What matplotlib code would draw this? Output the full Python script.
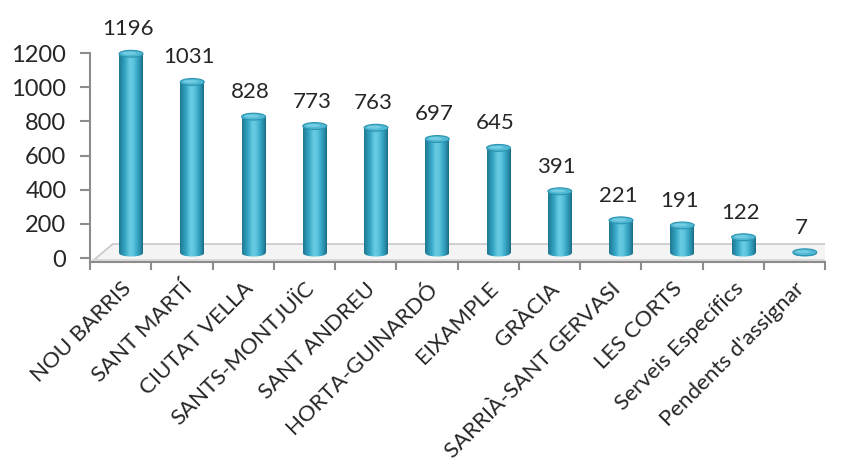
import numpy as np
import matplotlib.pyplot as plt
from matplotlib.patches import Rectangle, Ellipse, Polygon

districtes = ['NOU BARRIS', 'SANT MARTÍ', 'CIUTAT VELLA', 'SANTS-MONTJUÏC',
              'SANT ANDREU', 'HORTA-GUINARDÓ', 'EIXAMPLE', 'GRÀCIA',
              'SARRIÀ-SANT GERVASI', 'LES CORTS', 'Serveis Específics',
              "Pendents d'assignar"]
valors = [1196, 1031, 828, 773, 763, 697, 645, 391, 221, 191, 122, 7]
yticks = [0, 200, 400, 600, 800, 1000, 1200]

plt.rcParams['font.family'] = ['Lato', 'DejaVu Sans']

fig = plt.figure(figsize=(8.42, 4.66), dpi=100)
# l'eix va fins a 1300 perquè no es talli la columna més alta
ax = fig.add_axes([90 / 842, 204 / 466, 735 / 842, 226 / 466])
ax.set_xlim(-0.5, len(valors) - 0.5)
ax.set_ylim(-23, 1300)

# desplaçament "3D"
dx = 0.17      # desplaçament de les columnes cap a la dreta
base = 29      # base de les columnes sobre el terra
amp = 0.39     # amplada de la columna
el_h = 40      # alçada de l'el·lipse

# terra
terra = Polygon([[-0.47, -21], [-0.13, 82], [11.74, 82], [11.53, -21]],
                closed=True, facecolor='#f4f4f4', edgecolor='#c8c8c8', lw=1.2, zorder=1)
ax.add_patch(terra)
ax.add_patch(Polygon([[-0.47, -21], [11.53, -21], [11.53, -6], [-0.47, -6]],
                     closed=True, facecolor='#d9d9d9', edgecolor='none', zorder=1))

# gradient horitzontal del cilindre
grad = np.array([0.0, 0.25, 0.45, 0.6, 0.75, 0.9, 1.0])
cols = np.array([[0x1f, 0x78, 0x94], [0x34, 0xa5, 0xc4], [0x6a, 0xcc, 0xe3],
                 [0x5e, 0xc4, 0xdd], [0x3a, 0xaa, 0xc8], [0x28, 0x8b, 0xa8],
                 [0x1b, 0x6a, 0x83]]) / 255
t = np.linspace(0, 1, 64)
img = np.stack([np.interp(t, grad, cols[:, k]) for k in range(3)], axis=-1)[None, :, :]

for i, v in enumerate(valors):
    xc = i + dx
    x0, x1 = xc - amp / 2, xc + amp / 2
    top = max(v, base + 5)
    # cos
    im = ax.imshow(img, extent=[x0, x1, base - el_h / 2, top], aspect='auto',
                   interpolation='bicubic', zorder=3)
    im.set_clip_path(Rectangle((x0, base), amp, top - base, transform=ax.transData))
    im2 = ax.imshow(img, extent=[x0, x1, base - el_h / 2, top], aspect='auto',
                    interpolation='bicubic', zorder=3)
    im2.set_clip_path(Ellipse((xc, base), amp, el_h, transform=ax.transData))
    # tapa superior
    ax.add_patch(Ellipse((xc, top), amp, el_h, facecolor='#52b9d4',
                         edgecolor='#2b93b1', lw=0.8, zorder=4))
    ax.add_patch(Ellipse((xc - 0.03, top + 3), amp * 0.6, el_h * 0.45,
                         facecolor='#72cde3', edgecolor='none', zorder=4))
    # etiqueta
    ax.text(xc - 0.05, top + 85, str(v), ha='center', va='bottom',
            fontsize=16, color='#262626', clip_on=False, zorder=5)

# eixos
for s in ['top', 'right']:
    ax.spines[s].set_visible(False)
ax.spines['left'].set_color('#8c8c8c')
ax.spines['bottom'].set_color('#8c8c8c')
ax.spines['left'].set_linewidth(1.5)
ax.spines['bottom'].set_linewidth(1.5)
ax.spines['left'].set_bounds(-23, 1200)

ax.set_yticks(yticks)
ax.set_yticklabels([str(y) for y in yticks], fontsize=17, color='#262626')
ax.tick_params(axis='y', length=7, width=1.5, color='#8c8c8c', pad=10)

ax.set_xticks(np.arange(len(valors)))
ax.set_xticklabels(districtes, rotation=45, ha='right', va='top',
                   rotation_mode='anchor', fontsize=16, color='#262626')
ax.set_xticks(np.arange(len(valors) + 1) - 0.5, minor=True)
ax.tick_params(axis='x', which='major', length=0, pad=12)
ax.tick_params(axis='x', which='minor', length=6, width=1.5, color='#8c8c8c')

fig.savefig('out.png', dpi=100)
